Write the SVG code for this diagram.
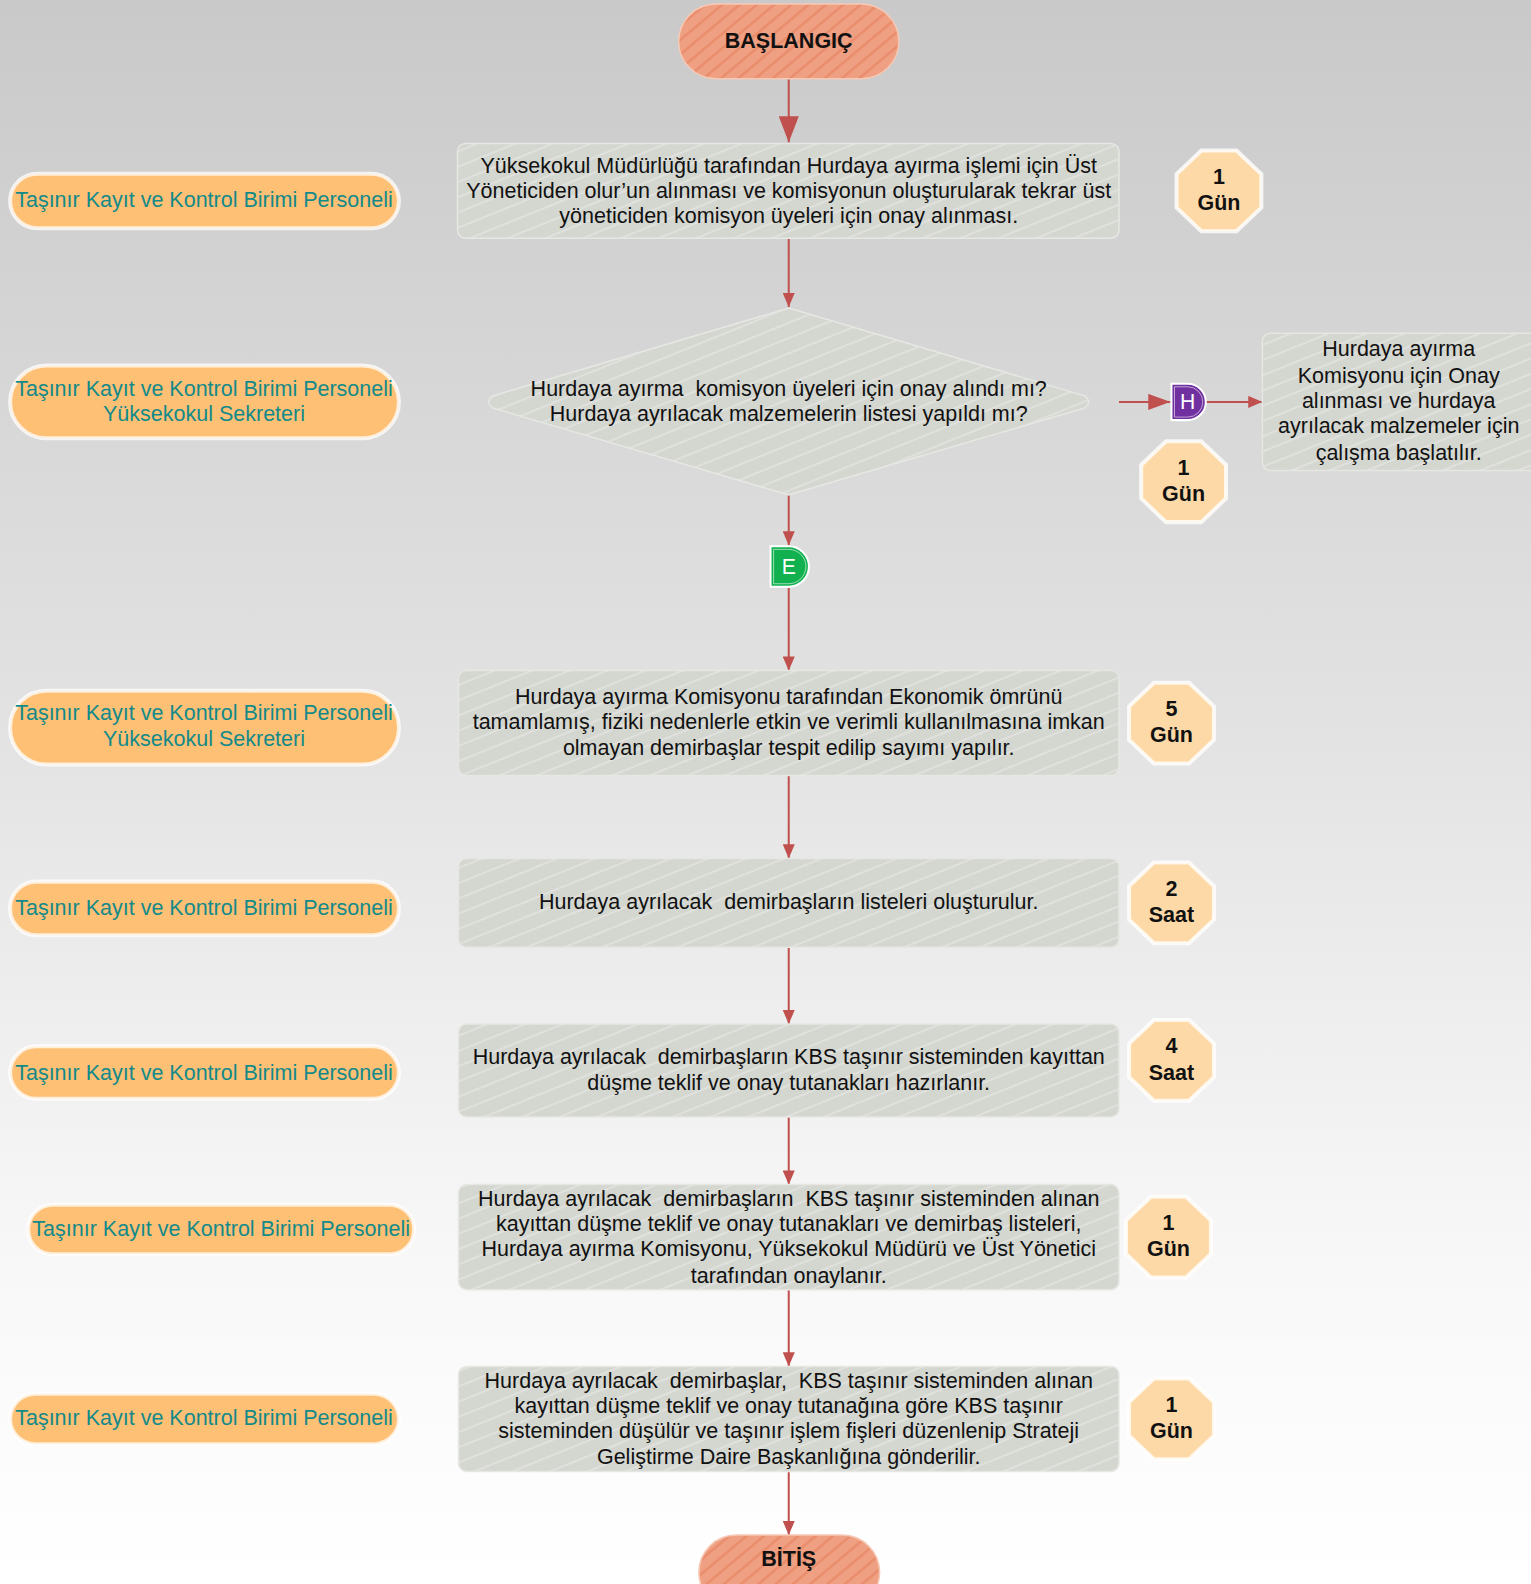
<svg xmlns="http://www.w3.org/2000/svg" width="1531" height="1584" viewBox="0 0 1531 1584">
<defs>
<linearGradient id="bg" x1="0" y1="0" x2="0" y2="1">
<stop offset="0" stop-color="#c9c9c9"/>
<stop offset="0.45" stop-color="#e2e2e2"/>
<stop offset="0.8" stop-color="#f8f8f8"/>
<stop offset="1" stop-color="#ffffff"/>
</linearGradient>
<pattern id="boxHatch" patternUnits="userSpaceOnUse" width="14" height="14" patternTransform="rotate(-22)">
<rect width="14" height="14" fill="#d4d6d0"/>
<rect y="0" width="14" height="2" fill="#e0e1dd"/>
</pattern>
<pattern id="termHatch" patternUnits="userSpaceOnUse" width="11" height="11" patternTransform="rotate(-40)">
<rect width="11" height="11" fill="#efa083"/>
<rect y="0" width="11" height="2.5" fill="#ea8d6c"/>
</pattern>
<marker id="ahBig" markerUnits="userSpaceOnUse" viewBox="0 0 26 20" markerWidth="26" markerHeight="20" refX="26" refY="10" orient="auto">
<path d="M0,0 L26,10 L0,20 Z" fill="#c0504d"/>
</marker>
<marker id="ah" markerUnits="userSpaceOnUse" viewBox="0 0 14 12" markerWidth="14" markerHeight="12" refX="14" refY="6" orient="auto">
<path d="M0,0 L14,6 L0,12 Z" fill="#c0504d"/>
</marker>
<marker id="ahMid" markerUnits="userSpaceOnUse" viewBox="0 0 22 16" markerWidth="22" markerHeight="16" refX="22" refY="8" orient="auto">
<path d="M0,0 L22,8 L0,16 Z" fill="#c0504d"/>
</marker>
<polygon id="oct" points="-17.4,-40 17.4,-40 42,-16.6 42,16.6 17.4,40 -17.4,40 -42,16.6 -42,-16.6"/>
<style>
.t{font-family:"Liberation Sans",Arial,sans-serif;font-size:21.3px;fill:#111;text-anchor:middle;white-space:pre}
.tb{font-family:"Liberation Sans",Arial,sans-serif;font-size:21.3px;font-weight:bold;fill:#111;text-anchor:middle}
.role{font-family:"Liberation Sans",Arial,sans-serif;font-size:21.3px;fill:#138a8a;text-anchor:middle}
.conn{font-family:"Liberation Sans",Arial,sans-serif;font-size:21px;fill:#fff;text-anchor:middle}
.box{fill:url(#boxHatch);stroke:#e6e7e3;stroke-width:1.5}
.term{fill:url(#termHatch);stroke:#f6c9b6;stroke-width:1.5}
.pill{fill:#fdc074;stroke:#ffffff;stroke-width:4;stroke-opacity:0.75}
.badge{fill:#fdd9a7;stroke:#ffffff;stroke-width:4;stroke-opacity:0.8}
.edge{stroke:#c0504d;stroke-width:2;fill:none}
</style>
</defs>
<rect width="1531" height="1584" fill="url(#bg)"/>

<g transform="scale(1.0099)">
<g id="connectors">
<line class="edge" x1="781" y1="78" x2="781" y2="141" marker-end="url(#ahBig)"/>
<line class="edge" x1="781" y1="236" x2="781" y2="304" marker-end="url(#ah)"/>
<line class="edge" x1="781" y1="490" x2="781" y2="540" marker-end="url(#ah)"/>
<line class="edge" x1="781" y1="582" x2="781" y2="664" marker-end="url(#ah)"/>
<line class="edge" x1="781" y1="768" x2="781" y2="850" marker-end="url(#ah)"/>
<line class="edge" x1="781" y1="938" x2="781" y2="1014" marker-end="url(#ah)"/>
<line class="edge" x1="781" y1="1106" x2="781" y2="1173" marker-end="url(#ah)"/>
<line class="edge" x1="781" y1="1277" x2="781" y2="1353" marker-end="url(#ah)"/>
<line class="edge" x1="781" y1="1457" x2="781" y2="1520" marker-end="url(#ah)"/>
<line class="edge" x1="1108" y1="398" x2="1159" y2="398" marker-end="url(#ahMid)"/>
<line class="edge" x1="1194" y1="398" x2="1250" y2="398" marker-end="url(#ah)"/>
</g>

<g id="start">
<rect class="term" x="672" y="4" width="218" height="74" rx="37"/>
<text class="tb" x="781" y="48">BAŞLANGIÇ</text>
</g>

<g id="step1">
<rect class="box" x="453" y="142" width="655" height="94" rx="8"/>
<text class="t" x="781" y="171">Yüksekokul Müdürlüğü tarafından Hurdaya ayırma işlemi için Üst</text>
<text class="t" x="781" y="196">Yöneticiden olur’un alınması ve komisyonun oluşturularak tekrar üst</text>
<text class="t" x="781" y="221">yöneticiden komisyon üyeleri için onay alınması.</text>
</g>

<g id="decision">
<path class="box" d="M781,305 L1074,392 Q1082,398 1074,404 L781,490 L488,404 Q480,398 488,392 Z"/>
<text class="t" x="781" y="392">Hurdaya ayırma  komisyon üyeleri için onay alındı mı?</text>
<text class="t" x="781" y="417">Hurdaya ayrılacak malzemelerin listesi yapıldı mı?</text>
</g>

<g id="connH">
<path d="M1160,380 H1176 A18,18 0 0 1 1176,416 H1160 Z" fill="#7030a0" stroke="#ffffff" stroke-width="2"/>
<path d="M1163,383 H1176 A15,15 0 0 1 1176,413 H1163 Z" fill="none" stroke="#ffffff" stroke-width="0.8" stroke-opacity="0.7"/>
<text class="conn" x="1176" y="405">H</text>
</g>

<g id="noBranch">
<rect class="box" x="1250" y="330" width="290" height="136" rx="8"/>
<text class="t" x="1385" y="353">Hurdaya ayırma</text>
<text class="t" x="1385" y="379">Komisyonu için Onay</text>
<text class="t" x="1385" y="404">alınması ve hurdaya</text>
<text class="t" x="1385" y="429">ayrılacak malzemeler için</text>
<text class="t" x="1385" y="455">çalışma başlatılır.</text>
</g>

<g id="connE">
<path d="M763,541 H781 A20,20 0 0 1 781,581 H763 Z" fill="#12b14f" stroke="#ffffff" stroke-width="2"/>
<path d="M766,544 H781 A17,17 0 0 1 781,578 H766 Z" fill="none" stroke="#ffffff" stroke-width="0.8" stroke-opacity="0.7"/>
<text class="conn" x="781" y="568">E</text>
</g>

<g id="step2">
<rect class="box" x="454" y="664" width="654" height="104" rx="8"/>
<text class="t" x="781" y="697">Hurdaya ayırma Komisyonu tarafından Ekonomik ömrünü</text>
<text class="t" x="781" y="722">tamamlamış, fiziki nedenlerle etkin ve verimli kullanılmasına imkan</text>
<text class="t" x="781" y="748">olmayan demirbaşlar tespit edilip sayımı yapılır.</text>
</g>

<g id="step3">
<rect class="box" x="454" y="850" width="654" height="88" rx="8"/>
<text class="t" x="781" y="900">Hurdaya ayrılacak  demirbaşların listeleri oluşturulur.</text>
</g>

<g id="step4">
<rect class="box" x="454" y="1014" width="654" height="92" rx="8"/>
<text class="t" x="781" y="1054">Hurdaya ayrılacak  demirbaşların KBS taşınır sisteminden kayıttan</text>
<text class="t" x="781" y="1079">düşme teklif ve onay tutanakları hazırlanır.</text>
</g>

<g id="step5">
<rect class="box" x="454" y="1173" width="654" height="104" rx="8"/>
<text class="t" x="781" y="1194">Hurdaya ayrılacak  demirbaşların  KBS taşınır sisteminden alınan</text>
<text class="t" x="781" y="1219">kayıttan düşme teklif ve onay tutanakları ve demirbaş listeleri,</text>
<text class="t" x="781" y="1244">Hurdaya ayırma Komisyonu, Yüksekokul Müdürü ve Üst Yönetici</text>
<text class="t" x="781" y="1270">tarafından onaylanır.</text>
</g>

<g id="step6">
<rect class="box" x="454" y="1353" width="654" height="104" rx="8"/>
<text class="t" x="781" y="1374">Hurdaya ayrılacak  demirbaşlar,  KBS taşınır sisteminden alınan</text>
<text class="t" x="781" y="1399">kayıttan düşme teklif ve onay tutanağına göre KBS taşınır</text>
<text class="t" x="781" y="1424">sisteminden düşülür ve taşınır işlem fişleri düzenlenip Strateji</text>
<text class="t" x="781" y="1450">Geliştirme Daire Başkanlığına gönderilir.</text>
</g>

<g id="end">
<rect class="term" x="692" y="1520" width="179" height="74" rx="37"/>
<text class="tb" x="781" y="1551">BİTİŞ</text>
</g>

<g id="badge1">
<use href="#oct" class="badge" transform="translate(1207,189)"/>
<text class="tb" x="1207" y="182">1</text>
<text class="tb" x="1207" y="208">Gün</text>
</g>
<g id="badge2">
<use href="#oct" class="badge" transform="translate(1172,477)"/>
<text class="tb" x="1172" y="470">1</text>
<text class="tb" x="1172" y="496">Gün</text>
</g>
<g id="badge3">
<use href="#oct" class="badge" transform="translate(1160,716)"/>
<text class="tb" x="1160" y="709">5</text>
<text class="tb" x="1160" y="735">Gün</text>
</g>
<g id="badge4">
<use href="#oct" class="badge" transform="translate(1160,894)"/>
<text class="tb" x="1160" y="887">2</text>
<text class="tb" x="1160" y="913">Saat</text>
</g>
<g id="badge5">
<use href="#oct" class="badge" transform="translate(1160,1050)"/>
<text class="tb" x="1160" y="1043">4</text>
<text class="tb" x="1160" y="1069">Saat</text>
</g>
<g id="badge6">
<use href="#oct" class="badge" transform="translate(1157,1225)"/>
<text class="tb" x="1157" y="1218">1</text>
<text class="tb" x="1157" y="1244">Gün</text>
</g>
<g id="badge7">
<use href="#oct" class="badge" transform="translate(1160,1405)"/>
<text class="tb" x="1160" y="1398">1</text>
<text class="tb" x="1160" y="1424">Gün</text>
</g>

<g id="role1">
<rect class="pill" x="10" y="172" width="385" height="54" rx="27"/>
<text class="role" x="202" y="205">Taşınır Kayıt ve Kontrol Birimi Personeli</text>
</g>
<g id="role2">
<rect class="pill" x="10" y="362" width="385" height="72" rx="36"/>
<text class="role" x="202" y="392">Taşınır Kayıt ve Kontrol Birimi Personeli</text>
<text class="role" x="202" y="417">Yüksekokul Sekreteri</text>
</g>
<g id="role3">
<rect class="pill" x="10" y="684" width="385" height="73" rx="36"/>
<text class="role" x="202" y="713">Taşınır Kayıt ve Kontrol Birimi Personeli</text>
<text class="role" x="202" y="739">Yüksekokul Sekreteri</text>
</g>
<g id="role4">
<rect class="pill" x="10" y="873" width="385" height="53" rx="26"/>
<text class="role" x="202" y="906">Taşınır Kayıt ve Kontrol Birimi Personeli</text>
</g>
<g id="role5">
<rect class="pill" x="10" y="1036" width="385" height="52" rx="26"/>
<text class="role" x="202" y="1069">Taşınır Kayıt ve Kontrol Birimi Personeli</text>
</g>
<g id="role6">
<rect class="pill" x="28" y="1193" width="382" height="49" rx="24"/>
<text class="role" x="219" y="1224">Taşınır Kayıt ve Kontrol Birimi Personeli</text>
</g>
<g id="role7">
<rect class="pill" x="10" y="1380" width="385" height="50" rx="25"/>
<text class="role" x="202" y="1411">Taşınır Kayıt ve Kontrol Birimi Personeli</text>
</g>
</g>
</svg>
